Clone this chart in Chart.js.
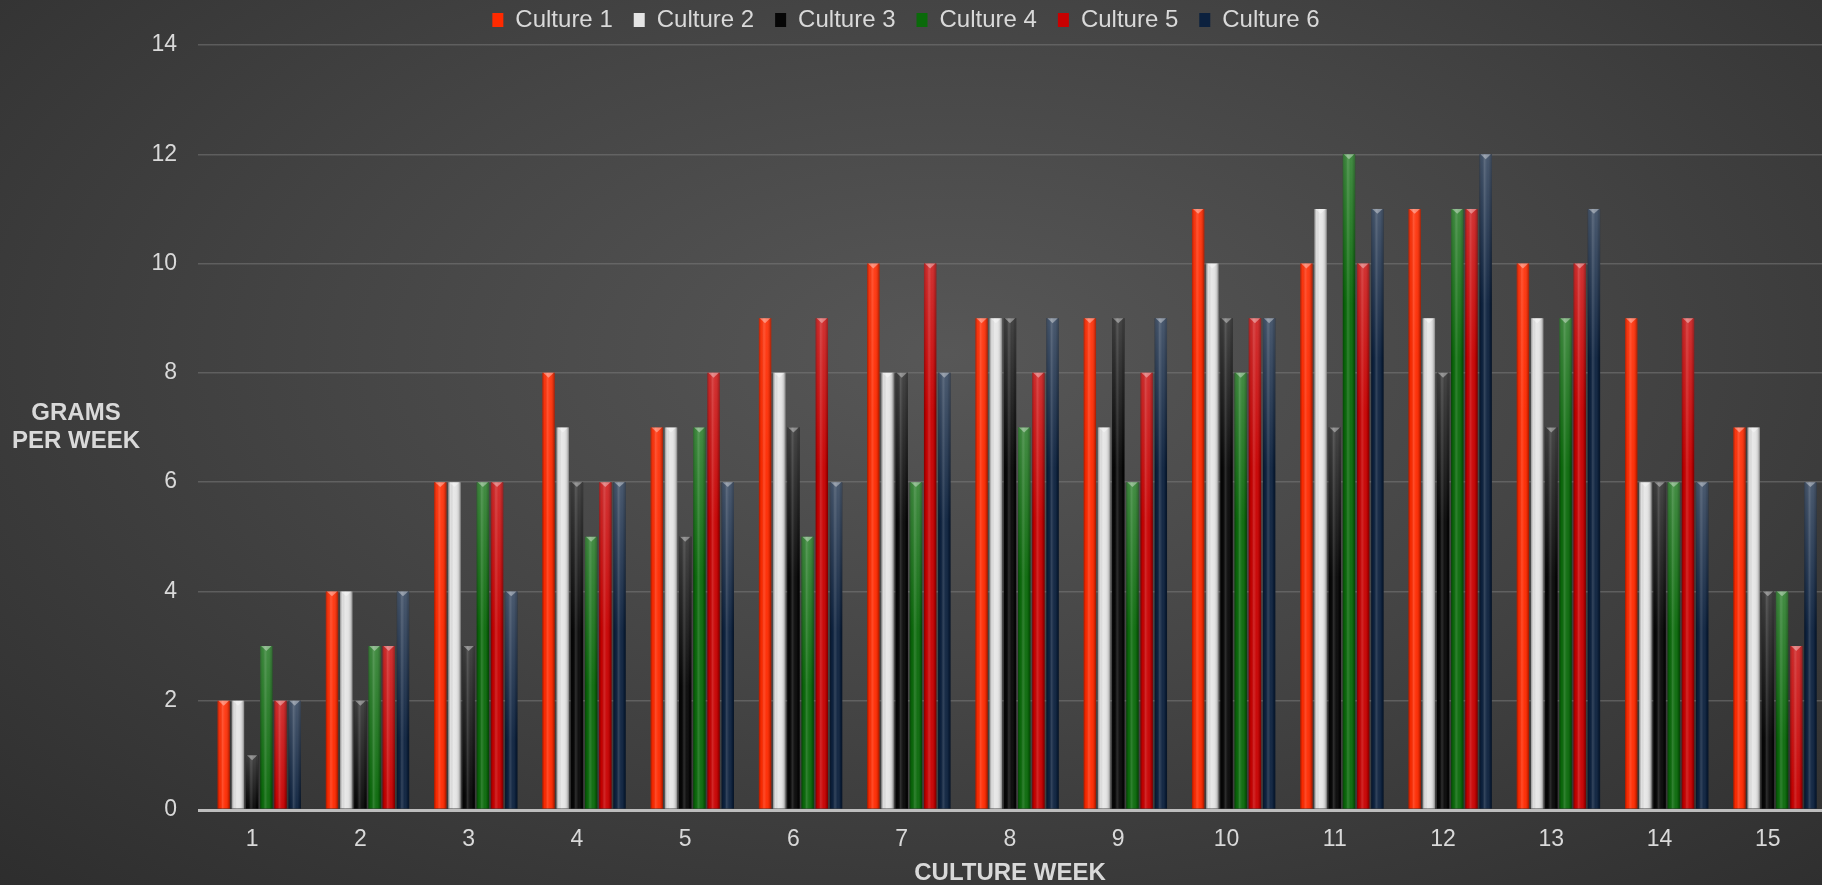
<!DOCTYPE html>
<html>
<head>
<meta charset="utf-8">
<title>Culture growth per week</title>
<script src="https://cdn.jsdelivr.net/npm/chart.js@4"></script>
<style>
  html, body { margin: 0; padding: 0; }
  body {
    width: 1822px; height: 885px; overflow: hidden;
    background: radial-gradient(ellipse 75% 85% at 52% 40%, #575757 0%, #454545 45%, #2d2d2d 100%);
  }
  canvas { display: block; }
</style>
</head>
<body>
<canvas id="myChart" width="1822" height="885"></canvas>
<script>
// values (grams per week)
const weeks = ['1','2','3','4','5','6','7','8','9','10','11','12','13','14','15'];
const culture1 = [2, 4, 6, 8, 7, 9, 10, 9, 9, 11, 10, 11, 10, 9, 7];
const culture2 = [2, 4, 6, 7, 7, 8, 8, 9, 7, 10, 11, 9, 9, 6, 7];
const culture3 = [1, 2, 3, 6, 5, 7, 8, 9, 9, 9, 7, 8, 7, 6, 4];
const culture4 = [3, 3, 6, 5, 7, 5, 6, 7, 6, 8, 12, 11, 9, 6, 4];
const culture5 = [2, 3, 6, 6, 8, 9, 10, 8, 8, 9, 10, 11, 10, 9, 3];
const culture6 = [2, 4, 4, 6, 6, 6, 8, 9, 9, 9, 11, 12, 11, 6, 6];
const seriesNames = ['Culture 1','Culture 2','Culture 3','Culture 4','Culture 5','Culture 6'];
const yTicks = [0, 2, 4, 6, 8, 10, 12, 14];

const colors = ['#ff2a00', '#e4e4e4', '#060606', '#0a6a0a', '#c80000', '#0c213e'];
const topTint = [0.06, 0.0, 0.22, 0.2, 0.16, 0.22];
const textColor = '#d9d9d9';

Chart.defaults.font.family = '"Liberation Sans", Arial, sans-serif';

// bevel / sheen drawn on top of each bar, using the bar elements' own geometry
const shading = {
  id: 'shading',
  afterDatasetsDraw(chart) {
    const ctx = chart.ctx;
    ctx.save();
    chart.data.datasets.forEach((ds, i) => {
      const meta = chart.getDatasetMeta(i);
      if (meta.hidden || ds.spacer) return;
      const tint = topTint[i - 1];
      meta.data.forEach(bar => {
        const w = bar.width, l = bar.x - w / 2, top = bar.y, h = bar.base - bar.y;
        if (!(h > 0)) return;
        let g = ctx.createLinearGradient(l, 0, l + w, 0);
        g.addColorStop(0, 'rgba(0,0,0,0.35)');
        g.addColorStop(0.18, 'rgba(0,0,0,0.02)');
        g.addColorStop(0.4, 'rgba(255,255,255,0.16)');
        g.addColorStop(0.62, 'rgba(255,255,255,0.04)');
        g.addColorStop(0.85, 'rgba(0,0,0,0.12)');
        g.addColorStop(1, 'rgba(0,0,0,0.4)');
        ctx.fillStyle = g;
        ctx.fillRect(l, top, w, h);

        const th = Math.min(h, 150);
        g = ctx.createLinearGradient(0, top, 0, top + th);
        g.addColorStop(0, 'rgba(255,255,255,' + tint + ')');
        g.addColorStop(1, 'rgba(255,255,255,0)');
        ctx.fillStyle = g;
        ctx.fillRect(l, top, w, th);

        ctx.beginPath();
        ctx.moveTo(l + 1, top);
        ctx.lineTo(l + w - 1, top);
        ctx.lineTo(bar.x, top + w * 0.4);
        ctx.closePath();
        ctx.fillStyle = 'rgba(255,255,255,0.38)';
        ctx.fill();
      });
    });
    ctx.restore();
  }
};

// horizontal y axis title on the left
const yTitle = {
  id: 'yTitle',
  afterDraw(chart) {
    const ctx = chart.ctx;
    const mid = (chart.chartArea.top + chart.chartArea.bottom) / 2;
    ctx.save();
    ctx.font = 'bold 24px "Liberation Sans", Arial, sans-serif';
    ctx.fillStyle = textColor;
    ctx.textAlign = 'center';
    ctx.textBaseline = 'middle';
    ctx.fillText('GRAMS', 76, mid - 14);
    ctx.fillText('PER WEEK', 76, mid + 14);
    ctx.restore();
  }
};

// a little more room under the legend
const legendGap = {
  id: 'legendGap',
  beforeInit(chart) {
    const fit = chart.legend.fit;
    chart.legend.fit = function () {
      fit.bind(chart.legend)();
      this.height += 3;
    };
  }
};

// the original groups sit a half slot right of the week tick, so an empty
// leading slot keeps that offset
const seriesData = [culture1, culture2, culture3, culture4, culture5, culture6];
const datasets = [{ label: '', spacer: true, data: [], backgroundColor: 'rgba(0,0,0,0)',
  categoryPercentage: 0.918, barPercentage: 0.87 }].concat(seriesNames.map((name, i) => ({
  label: name,
  data: seriesData[i],
  backgroundColor: colors[i],
  borderWidth: 0,
  categoryPercentage: 0.918,
  barPercentage: 0.87
})));

const ctx = document.getElementById('myChart').getContext('2d');
const myChart = new Chart(ctx, {
  type: 'bar',
  data: { labels: weeks, datasets: datasets },
  options: {
    responsive: false,
    animation: false,
    devicePixelRatio: 1,
    layout: { padding: { top: -13, right: 0, left: -10, bottom: 0 } },
    plugins: {
      legend: {
        position: 'top',
        labels: {
          color: textColor,
          font: { size: 24 },
          boxWidth: 11,
          boxHeight: 14,
          padding: 21,
          filter: item => item.text !== ''
        }
      },
      tooltip: { enabled: false }
    },
    scales: {
      x: {
        grid: { display: false, drawTicks: false },
        border: { display: false },
        ticks: { color: textColor, font: { size: 23 }, padding: 16, maxRotation: 0 },
        title: {
          display: true,
          text: 'CULTURE WEEK',
          color: textColor,
          font: { size: 24, weight: 'bold' },
          padding: { top: 7, bottom: -3 }
        },
        afterFit(s) { s.height = 75; }
      },
      y: {
        min: 0,
        max: 14,
        afterBuildTicks(s) { s.ticks = yTicks.map(v => ({ value: v })); },
        grid: {
          color: c => c.tick && c.tick.value === 0 ? '#bdbdbd' : 'rgba(125,125,125,0.5)',
          lineWidth: c => c.tick && c.tick.value === 0 ? 3 : 1.5,
          drawTicks: false
        },
        border: { display: false },
        ticks: { color: textColor, font: { size: 23 }, padding: 21 },
        afterFit(s) { s.width = 208; }
      }
    }
  },
  plugins: [shading, yTitle, legendGap]
});
</script>
</body>
</html>
